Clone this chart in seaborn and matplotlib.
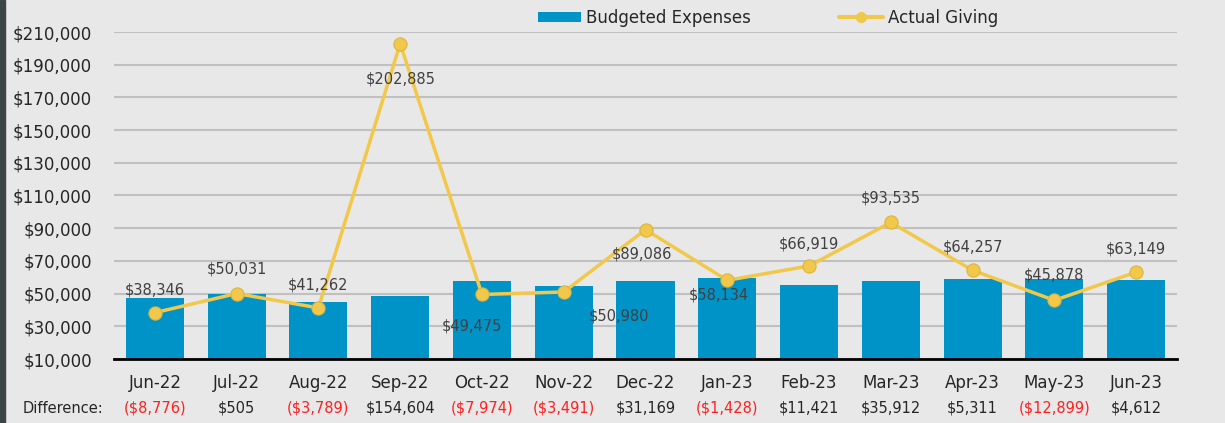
import matplotlib
matplotlib.use("Agg")
import matplotlib.pyplot as plt
import matplotlib.transforms as mtransforms
from matplotlib.patches import Patch, Rectangle
from matplotlib.lines import Line2D
from matplotlib.ticker import FuncFormatter
import seaborn as sns
import pandas as pd

months = ["Jun-22", "Jul-22", "Aug-22", "Sep-22", "Oct-22", "Nov-22", "Dec-22",
          "Jan-23", "Feb-23", "Mar-23", "Apr-23", "May-23", "Jun-23"]
actual = [38346, 50031, 41262, 202885, 49475, 50980, 89086,
          58134, 66919, 93535, 64257, 45878, 63149]
budget = [47122, 49526, 45051, 48281, 57449, 54471, 57917,
          59562, 55498, 57623, 58946, 58777, 58537]
difference = [-8776, 505, -3789, 154604, -7974, -3491, 31169,
              -1428, 11421, 35912, 5311, -12899, 4612]

df = pd.DataFrame({"month": months, "actual": actual, "budget": budget})

bg = "#e8e8e8"
bar_color = "#0093c8"
line_color = "#f2c84b"

sns.set_style("white")
plt.rcParams["font.family"] = ["DejaVu Sans"]

fig = plt.figure(figsize=(12.25, 4.23), dpi=100, facecolor=bg)
ax = fig.add_axes([114 / 1225, 64 / 423, 1063 / 1225, 327 / 423])
ax.set_facecolor(bg)

sns.barplot(data=df, x="month", y="budget", color=bar_color, width=0.71,
            saturation=1, linewidth=0, edgecolor="none", ax=ax, zorder=2)
sns.lineplot(data=df, x="month", y="actual", color=line_color, lw=2.5,
             marker="o", markersize=9.5, markerfacecolor=line_color,
             markeredgecolor="#dcb440", markeredgewidth=0.8, sort=False,
             ax=ax, zorder=3)

ax.set_ylim(10000, 210000)
ax.set_xlim(-0.5, 12.5)
ax.set_yticks(range(10000, 210001, 20000))
ax.yaxis.set_major_formatter(FuncFormatter(lambda v, p: f"${v:,.0f}"))
ax.yaxis.grid(True, color="#c0c0c0", lw=1.5, zorder=0)
ax.set_axisbelow(True)
for s in ["top", "right", "left"]:
    ax.spines[s].set_visible(False)
ax.spines["bottom"].set_color("black")
ax.spines["bottom"].set_linewidth(2)
ax.spines["bottom"].set_zorder(4)
ax.tick_params(axis="y", length=0, pad=16, labelsize=12, labelcolor="#262626")
ax.tick_params(axis="x", length=0, pad=11, labelsize=12, labelcolor="#262626")
ax.set_xlabel("")
ax.set_ylabel("")

# data labels for actual giving (offsets in pixels)
offsets = [(0, 23), (0, 25), (0, 23), (0, -35), (-10, -32), (55, -24), (-4, -24),
           (-8, -15), (0, 22), (0, 24), (0, 23), (0, 25), (0, 23)]
for i, (v, off) in enumerate(zip(actual, offsets)):
    ax.annotate(f"${v:,}", (i, v), xytext=off, textcoords="offset pixels",
                ha="center", va="center", fontsize=10.5, color="#404040", zorder=5)

# difference row
trans = mtransforms.blended_transform_factory(ax.transData, ax.transAxes)
ax.text(-0.048, -0.150, "Difference:", transform=ax.transAxes, ha="center",
        va="center", fontsize=10.5, color="#262626")
for i, d in enumerate(difference):
    if d < 0:
        txt, col = f"(${-d:,})", "#ff2020"
    else:
        txt, col = f"${d:,}", "#262626"
    ax.text(i, -0.150, txt, transform=trans, ha="center", va="center",
            fontsize=10.5, color=col)

handles = [Patch(facecolor=bar_color, edgecolor="none"),
           Line2D([0], [0], color=line_color, lw=3, marker="o", markersize=7)]
ax.legend(handles, ["Budgeted Expenses", "Actual Giving"], loc="center",
          bbox_to_anchor=(0.615, 1.043), ncol=2, frameon=False, fontsize=12,
          handlelength=2.6, handleheight=0.6, handletextpad=0.3, columnspacing=5.3)

fig.patches.append(Rectangle((0, 0), 5 / 1225, 1, transform=fig.transFigure,
                             color="#3b4446", zorder=10))

plt.savefig("out.png", dpi=100, facecolor=bg)
